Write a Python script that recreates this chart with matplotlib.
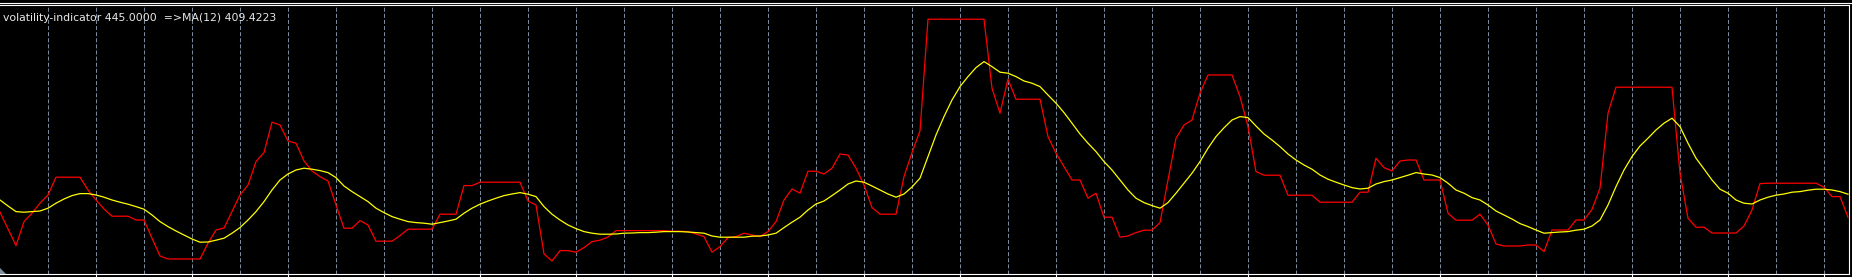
import numpy as np
import matplotlib
matplotlib.use("Agg")
import matplotlib.pyplot as plt
from matplotlib.lines import Line2D
from matplotlib.patches import Polygon

# volatility indicator (red), one value per bar
red = [314, 230, 147, 267, 309, 359, 400, 489, 489, 489,
       489, 425, 375, 330, 294, 294, 294, 275, 275, 184,
       95, 80, 80, 80, 80, 80, 159, 225, 235, 317,
       400, 450, 567, 612, 764, 750, 670, 659, 570, 520,
       492, 470, 350, 234, 234, 272, 250, 169, 169, 169,
       197, 229, 229, 229, 229, 304, 304, 304, 447, 447,
       464, 464, 464, 464, 464, 464, 370, 350, 105, 70,
       122, 122, 114, 137, 167, 174, 190, 222, 222, 222,
       222, 222, 222, 222, 219, 219, 217, 205, 192, 114,
       142, 187, 192, 209, 200, 192, 217, 267, 375, 430,
       409, 519, 519, 505, 534, 605, 600, 534, 450, 337,
       304, 304, 304, 492, 612, 720, 1279, 1279, 1279, 1279,
       1279, 1279, 1279, 1279, 934, 809, 979, 879, 879, 879,
       879, 692, 609, 542, 475, 475, 384, 409, 289, 289,
       189, 195, 212, 224, 224, 262, 475, 684, 750, 775,
       909, 1000, 1000, 1000, 1000, 892, 742, 517, 499, 499,
       499, 399, 399, 399, 399, 364, 364, 364, 364, 364,
       414, 414, 584, 537, 520, 570, 575, 575, 475, 475,
       475, 309, 274, 274, 274, 304, 250, 155, 145, 145,
       145, 150, 150, 117, 225, 225, 225, 275, 275, 328,
       434, 809, 939, 939, 939, 939, 939, 939, 939, 939,
       509, 284, 239, 239, 210, 210, 210, 210, 245, 325,
       457, 459, 459, 459, 459, 459, 459, 459, 439, 392,
       392, 289]

# MA(12) (yellow)
yellow = [375, 345, 317, 314, 317, 320, 334, 359, 380, 397,
          407, 407, 400, 389, 375, 364, 354, 342, 329, 300,
          267, 242, 220, 200, 180, 164, 165, 174, 184, 209,
          237, 275, 317, 367, 425, 475, 505, 525, 534, 529,
          522, 512, 487, 445, 417, 392, 367, 334, 312, 292,
          279, 267, 262, 259, 254, 262, 270, 279, 309, 334,
          354, 370, 384, 397, 405, 412, 404, 392, 342, 304,
          275, 250, 232, 217, 209, 204, 204, 205, 209, 210,
          212, 212, 214, 217, 217, 217, 215, 212, 209, 195,
          189, 189, 189, 189, 194, 195, 200, 209, 237, 264,
          289, 325, 355, 370, 397, 425, 455, 470, 464, 445,
          425, 405, 389, 405, 440, 484, 592, 700, 792, 875,
          942, 992, 1037, 1067, 1042, 1014, 1009, 992, 970, 959,
          942, 900, 859, 812, 759, 705, 659, 617, 567, 525,
          475, 425, 384, 362, 347, 334, 362, 409, 459, 509,
          567, 634, 692, 736, 775, 792, 787, 745, 705, 675,
          642, 605, 575, 550, 529, 500, 479, 464, 450, 437,
          430, 434, 455, 467, 475, 487, 499, 512, 505, 500,
          487, 459, 425, 409, 387, 375, 350, 320, 300, 280,
          257, 242, 225, 209, 212, 215, 217, 224, 229, 245,
          275, 350, 442, 525, 592, 645, 684, 725, 759, 784,
          742, 659, 584, 530, 475, 429, 409, 375, 359, 355,
          375, 389, 399, 405, 414, 417, 424, 429, 429, 425,
          417, 404]

label = "volatility-indicator 445.0000  =>MA(12) 409.4223"

W, H = 1852, 277
plt.rcParams["lines.scale_dashes"] = False

fig = plt.figure(figsize=(W / 100, H / 100), dpi=100, facecolor="black")
# plot area: x 0..1849 px, y 5.3..274 px (from top)
ax = fig.add_axes([0, 3 / H, 1849 / W, (274 - 5.3) / H])
ax.set_facecolor("black")

bars = np.arange(len(red))
ax.plot(bars, red, color="#ff0000", lw=0.9, zorder=3)
ax.plot(bars, yellow, color="#ffff00", lw=0.9, zorder=4)

ax.set_xlim(0, 1849 / 8)
ax.set_ylim(5, 1348.5)

# grid every 6 bars, ticks every 12 bars
ax.set_xticks(np.arange(12, len(red), 12))
ax.set_xticks(np.arange(6, len(red), 12), minor=True)
ax.set_yticks([])
ax.tick_params(axis="x", which="major", direction="out", length=2.2, width=0.8,
               color="white", labelbottom=False)
ax.tick_params(axis="x", which="minor", length=0)
ax.grid(True, axis="x", which="both", color="#778899", lw=0.75,
        linestyle=(0, (2.9, 1.5)))
ax.set_axisbelow(True)

for side in ["top", "right", "bottom"]:
    ax.spines[side].set_color("white")
    ax.spines[side].set_linewidth(0.8)
ax.spines["left"].set_visible(False)

# second border line above the window
fig.add_artist(Line2D([0, 1], [1 - 3.3 / H] * 2, transform=fig.transFigure,
                      color="white", lw=0.8))
# small gray corner mark at the bottom-left
fig.add_artist(Polygon([[0, 3 / H], [6 / W, 3 / H], [0, 9 / H]], closed=True,
                       transform=fig.transFigure, color="#8090a0", lw=0))

fig.text(3 / W, 1 - 20.7 / H, label, color="#e8e8e8", fontsize=7.8,
         family="DejaVu Sans", va="baseline", ha="left")

fig.savefig("out.png", dpi=100, facecolor="black")
